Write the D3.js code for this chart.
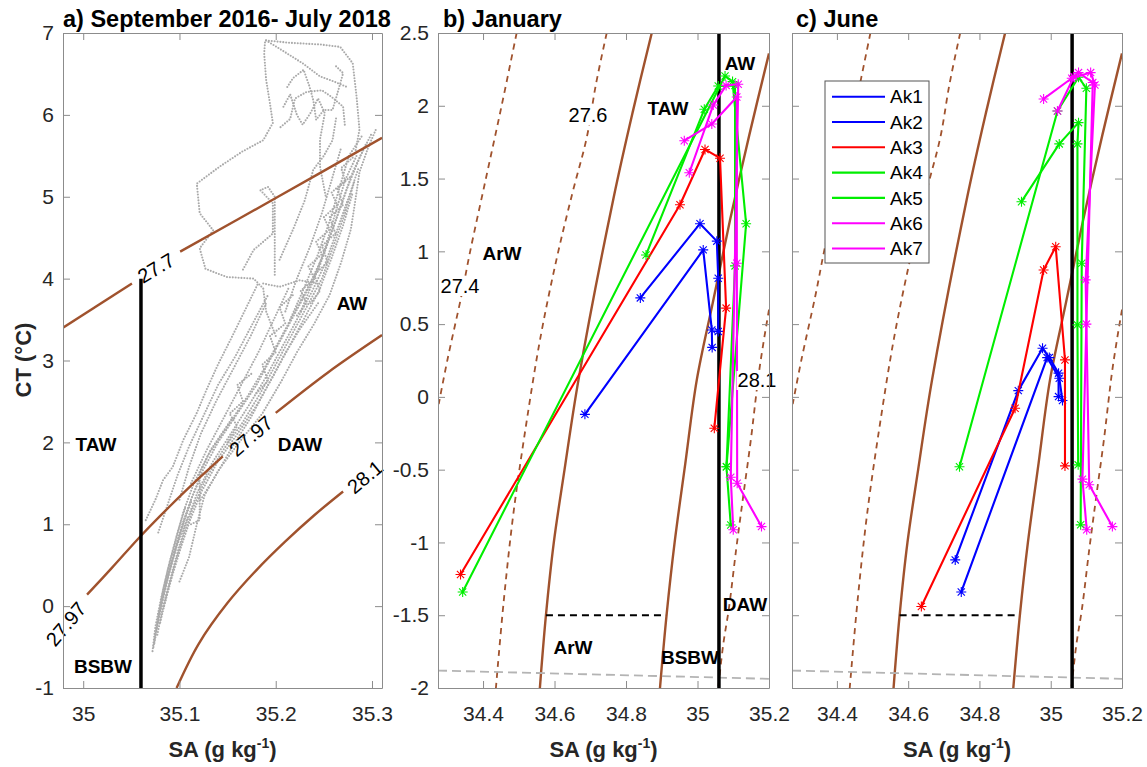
<!DOCTYPE html>
<html>
<head>
<meta charset="utf-8">
<script src="https://cdn.jsdelivr.net/npm/d3@7"></script>
<style>
  html, body { margin: 0; padding: 0; background: #fff; }
  svg text { font-family: "Liberation Sans", Arial, Helvetica, sans-serif; }
</style>
</head>
<body>
<svg id="chart" width="1147" height="767"></svg>
<script>
// ---------- Axis ticks ----------
const ticksA_SA = [35, 35.1, 35.2, 35.3];
const ticksA_CT = [-1, 0, 1, 2, 3, 4, 5, 6, 7];
const ticksBC_SA = [34.4, 34.6, 34.8, 35, 35.2];
const ticksBC_CT = [-2, -1.5, -1, -0.5, 0, 0.5, 1, 1.5, 2, 2.5];

// ---------- Panel (a): isopycnals [SA, CT], split where labels sit ----------
const isoA_277 = [[[34.979, 3.40], [35.0506, 3.94]],
                  [[35.1007, 4.33], [35.201, 4.99], [35.3104, 5.72]]];
const isoA_2797 = [[[35.004, 0.14], [35.03, 0.47], [35.06, 0.86], [35.09, 1.22], [35.12, 1.56], [35.145, 1.83]],
                   [[35.2, 2.36], [35.255, 2.86], [35.3104, 3.31]]];
const isoA_281 = [[[35.097, -1.0], [35.12, -0.46], [35.15, 0.04], [35.18, 0.44], [35.21, 0.79], [35.24, 1.11], [35.27, 1.40]]];

// Mooring record Sep 2016 - Jul 2018 (dotted SA/CT tracks)
const recordTracks = [
  [[35.072,-0.55],[35.075,-0.25],[35.081,0.1],[35.088,0.45],[35.096,0.8],[35.104,1.15],[35.115,1.5],[35.130,1.85],[35.150,2.2],[35.170,2.55],[35.188,2.9],[35.204,3.25],[35.220,3.6],[35.236,3.95],[35.250,4.3],[35.262,4.7],[35.274,5.1],[35.288,5.5],[35.300,5.78]],
  [[35.074,-0.45],[35.079,-0.1],[35.086,0.25],[35.094,0.6],[35.102,0.95],[35.112,1.3],[35.124,1.65],[35.140,2.0],[35.160,2.35],[35.180,2.7],[35.196,3.05],[35.212,3.4],[35.228,3.75],[35.244,4.1],[35.256,4.5],[35.268,4.9],[35.280,5.3],[35.294,5.65]],
  [[35.077,-0.35],[35.083,0.0],[35.091,0.35],[35.099,0.7],[35.108,1.05],[35.119,1.4],[35.134,1.75],[35.153,2.1],[35.172,2.45],[35.190,2.8],[35.206,3.15],[35.222,3.5],[35.238,3.85],[35.252,4.2],[35.264,4.6],[35.276,5.0],[35.286,5.35]],
  [[35.080,-0.2],[35.087,0.15],[35.095,0.5],[35.104,0.85],[35.114,1.2],[35.127,1.55],[35.145,1.9],[35.166,2.25],[35.184,2.6],[35.200,2.95],[35.216,3.3],[35.232,3.65],[35.248,4.0],[35.260,4.4],[35.272,4.8],[35.282,5.2]],
  [[35.084,0.0],[35.092,0.35],[35.101,0.7],[35.111,1.05],[35.123,1.4],[35.139,1.75],[35.160,2.1],[35.180,2.45],[35.197,2.8],[35.213,3.15],[35.229,3.5],[35.245,3.85],[35.258,4.25],[35.270,4.65],[35.280,5.05]],
  [[35.100,0.3],[35.110,0.6],[35.118,1.0],[35.126,1.35],[35.140,1.65],[35.162,2.0],[35.186,2.35],[35.206,2.75],[35.222,3.1],[35.240,3.45],[35.256,3.8],[35.268,4.2],[35.278,4.6],[35.282,4.9],[35.287,5.3],[35.296,5.6],[35.304,5.82]],
  [[35.073,-0.5],[35.077,-0.2],[35.083,0.2],[35.090,0.55],[35.098,0.9],[35.106,1.2]],
  [[35.076,-0.3],[35.082,0.05],[35.089,0.4],[35.097,0.75],[35.105,1.05],[35.113,1.3]],
  [[35.079,-0.1],[35.086,0.3],[35.094,0.65],[35.103,1.0],[35.112,1.3],[35.121,1.55]],
  [[35.082,0.1],[35.090,0.45],[35.099,0.8],[35.109,1.1]],
  [[35.100,1.3],[35.110,1.7],[35.122,2.1],[35.138,2.5],[35.156,2.9],[35.174,3.3],[35.190,3.7]],
  [[35.112,1.5],[35.128,1.9],[35.146,2.3],[35.164,2.7],[35.182,3.1],[35.198,3.5],[35.214,3.9]],
  [[35.122,1.3],[35.138,1.6],[35.155,1.95],[35.174,2.3],[35.192,2.7],[35.208,3.05],[35.226,3.4],[35.244,3.7]],
  [[35.112,1.0],[35.121,1.05],[35.121,1.62],[35.132,1.9],[35.155,2.3]],
  [[35.215,3.5],[35.230,3.9],[35.244,4.3],[35.256,4.7],[35.266,5.1],[35.276,5.5],[35.290,5.75]],
  [[35.226,3.6],[35.240,4.0],[35.252,4.4],[35.262,4.8],[35.272,5.2],[35.284,5.5]],
  [[35.210,3.6],[35.222,4.0],[35.236,4.4],[35.248,4.8],[35.258,5.2],[35.268,5.6]],
  [[35.222,3.55],[35.232,3.7],[35.226,3.85],[35.240,4.0],[35.234,4.15],[35.248,4.3],[35.242,4.45],[35.256,4.6],[35.250,4.75],[35.264,4.9],[35.258,5.05],[35.272,5.2],[35.268,5.35],[35.282,5.5]],
  [[35.236,3.7],[35.246,3.85],[35.240,4.05],[35.254,4.2],[35.248,4.4],[35.262,4.55],[35.256,4.75],[35.270,4.9],[35.264,5.1],[35.278,5.25]],
  [[35.180,2.6],[35.192,2.75],[35.186,2.95],[35.200,3.1],[35.194,3.3],[35.210,3.45],[35.204,3.65],[35.218,3.8]],
  [[35.150,2.0],[35.160,2.2],[35.152,2.35],[35.166,2.5],[35.160,2.7],[35.176,2.85]],
  [[35.065,1.05],[35.075,1.3],[35.083,1.54],[35.093,1.70],[35.104,2.03],[35.118,2.36],[35.128,2.64],[35.140,2.95],[35.155,3.3],[35.170,3.66],[35.182,3.95]],
  [[35.078,0.9],[35.088,1.25],[35.098,1.6],[35.110,1.95],[35.124,2.3],[35.140,2.7],[35.158,3.05],[35.176,3.45],[35.192,3.8]],
  [[35.200,3.3],[35.190,3.6],[35.187,3.88],[35.177,4.0],[35.149,4.02],[35.127,4.12],[35.121,4.37],[35.135,4.59],[35.121,4.80],[35.118,5.16],[35.142,5.37],[35.165,5.55],[35.187,5.69],[35.197,5.90],[35.194,6.14],[35.190,6.43],[35.188,6.75],[35.189,6.91],[35.215,6.88],[35.246,6.86],[35.267,6.83],[35.280,6.63],[35.284,6.22],[35.287,5.82],[35.282,5.5]],
  [[35.187,3.94],[35.204,3.9],[35.225,3.98],[35.240,3.95]],
  [[35.166,4.11],[35.177,4.35],[35.197,4.55],[35.197,4.92],[35.184,5.08],[35.192,5.12],[35.199,5.0],[35.199,4.5],[35.199,4.02]],
  [[35.204,4.23],[35.218,4.6],[35.230,4.95],[35.239,5.33],[35.250,5.5],[35.259,5.69],[35.263,5.98]],
  [[35.190,6.91],[35.205,6.8],[35.228,6.63],[35.246,6.47],[35.262,6.40],[35.274,6.34]],
  [[35.212,6.34],[35.218,6.45],[35.229,6.55],[35.235,6.35],[35.239,6.18],[35.242,5.94],[35.250,6.06],[35.259,6.06],[35.265,6.3],[35.270,6.51],[35.262,6.6]],
  [[35.208,6.10],[35.215,6.25],[35.222,6.0],[35.228,5.88],[35.236,6.02],[35.244,6.2],[35.251,6.02],[35.246,5.70],[35.246,5.37],[35.252,5.0]],
  [[35.205,5.85],[35.215,5.95],[35.220,6.2],[35.232,6.28],[35.248,6.3],[35.258,6.22],[35.270,6.10],[35.272,5.85]]
];

// ---------- Panels (b, c): isopycnals [SA, CT] ----------
const isoBC_274 = [[34.494,2.5],[34.452,2.0],[34.408,1.5],[34.364,1.0],[34.34,0.7],[34.30,0.25],[34.276,-0.05]];
const isoBC_276 = [[34.746,2.5],[34.716,2.15],[34.690,1.78],[34.650,1.40],[34.606,0.95],[34.560,0.40],[34.520,-0.20],[34.485,-0.80],[34.458,-1.40],[34.436,-2.0]];
const isoBC_277 = [[34.872,2.5],[34.82,1.97],[34.764,1.353],[34.667,0.117],[34.628,-0.5],[34.598,-1.0],[34.576,-1.5],[34.559,-2.0]];
const isoBC_2797 = [[35.2,2.36],[35.145,1.80],[35.091,1.216],[35.043,0.65],[34.998,0.117],[34.966,-0.455],[34.936,-1.0],[34.914,-1.486],[34.895,-2.0]];
const isoBC_281 = [[35.2,0.60],[35.185,0.38],[35.172,0.17],[35.162,-0.03],[35.150,-0.28],[35.128,-0.68],[35.108,-1.05],[35.088,-1.45],[35.072,-1.70],[35.058,-2.0]];
const freezingLine = [[34.274,-1.88],[35.2,-1.937]];
const arwBsbwLimit = [[34.576,-1.5],[34.912,-1.5]];
const awLimitSA = 35.06;

// ---------- Mooring profiles ----------
const seriesNames = ["Ak1", "Ak2", "Ak3", "Ak4", "Ak5", "Ak6", "Ak7"];
const seriesColors = ["#0000ff", "#0000ff", "#ff0000", "#00ee00", "#00ee00", "#ff00ff", "#ff00ff"];

const janAk1 = [[34.84,0.68],[35.007,1.19],[35.054,1.07],[35.058,0.815],[35.058,0.45]];
const janAk2 = [[34.685,-0.12],[35.016,1.01],[35.04,0.46],[35.041,0.34]];
const janAk3 = [[34.337,-1.22],[34.951,1.32],[35.021,1.70],[35.063,1.64],[35.080,0.61],[35.047,-0.215]];
const janAk4 = [[34.343,-1.34],[35.077,2.205],[35.098,2.166],[35.136,1.19],[35.081,-0.48]];
const janAk5 = [[34.856,0.975],[35.019,1.976],[35.058,2.136],[35.105,2.14],[35.105,0.90],[35.081,-0.48],[35.093,-0.88]];
const janAk6 = [[34.963,1.76],[35.040,1.875],[35.110,2.06],[35.110,0.918],[35.111,-0.593],[35.179,-0.891]];
const janAk7 = [[34.977,1.54],[35.044,2.005],[35.080,2.14],[35.114,2.148],[35.093,-0.552],[35.100,-0.913]];

const junAk1 = [[34.732,-1.12],[34.909,0.043],[34.977,0.334],[34.996,0.27],[35.022,0.163],[35.022,0.002]];
const junAk2 = [[34.749,-1.34],[34.99,0.27],[35.024,0.128],[35.033,-0.025]];
const junAk3 = [[34.637,-1.44],[34.900,-0.078],[34.980,0.872],[35.014,1.032],[35.040,0.254],[35.040,-0.474]];
const junAk4 = [[34.744,-0.48],[35.019,1.964],[35.078,2.196],[35.100,2.12],[35.087,0.918],[35.084,-0.879]];
const junAk5 = [[34.918,1.341],[35.024,1.738],[35.078,1.884],[35.075,1.738],[35.075,0.495],[35.077,-0.467]];
const junAk6 = [[34.980,2.047],[35.059,2.189],[35.112,2.228],[35.124,2.143],[35.098,0.804],[35.108,-0.604],[35.173,-0.891]];
const junAk7 = [[35.019,1.964],[35.065,2.2],[35.078,2.228],[35.118,2.16],[35.100,0.5],[35.089,-0.565],[35.101,-0.913]];

const janSeries = [janAk1, janAk2, janAk3, janAk4, janAk5, janAk6, janAk7];
const junSeries = [junAk1, junAk2, junAk3, junAk4, junAk5, junAk6, junAk7];

// ---------- Layout ----------
const TOP = 33, BOTTOM = 688;
const BROWN = "#a0522d";
const FRAME = "#8c8c8c";
const TXT = "#262626";

const svg = d3.select("#chart");

const xA = d3.scaleLinear([34.979, 35.3104], [63, 382]);
const yA = d3.scaleLinear([-1, 7], [BOTTOM, TOP]);
const xB = d3.scaleLinear([34.274, 35.2], [438, 769]);
const xC = d3.scaleLinear([34.274, 35.2], [792, 1122]);
const yBC = d3.scaleLinear([-2, 2.5], [BOTTOM, TOP]);

const fmt = d => String(+d.toFixed(2));

function styleAxis(sel) {
  sel.attr("font-family", null).attr("font-size", null);
  sel.select("path.domain").attr("stroke", FRAME).attr("stroke-width", 1);
  sel.selectAll(".tick line").attr("stroke", FRAME).attr("stroke-width", 1);
  sel.selectAll(".tick text").attr("fill", TXT).style("font-size", "21px");
}

function drawAxes(g, x, y, xt, yt, showY) {
  g.append("g").attr("transform", `translate(0,${BOTTOM})`)
    .call(d3.axisBottom(x).tickValues(xt).tickSizeInner(-7).tickSizeOuter(0).tickPadding(18).tickFormat(fmt))
    .call(styleAxis);
  g.append("g").attr("transform", `translate(0,${TOP})`)
    .call(d3.axisTop(x).tickValues(xt).tickSizeInner(-7).tickSizeOuter(0).tickFormat(""))
    .call(styleAxis);
  g.append("g").attr("transform", `translate(${x.range()[0]},0)`)
    .call(d3.axisLeft(y).tickValues(yt).tickSizeInner(-7).tickSizeOuter(0).tickPadding(9).tickFormat(showY ? fmt : ""))
    .call(styleAxis);
  g.append("g").attr("transform", `translate(${x.range()[1]},0)`)
    .call(d3.axisRight(y).tickValues(yt).tickSizeInner(-7).tickSizeOuter(0).tickFormat(""))
    .call(styleAxis);
}

function clipFor(id, x) {
  svg.append("clipPath").attr("id", id).append("rect")
    .attr("x", x.range()[0]).attr("y", TOP)
    .attr("width", x.range()[1] - x.range()[0]).attr("height", BOTTOM - TOP);
}

function asterisk(r) {
  const k = r * 0.72;
  return `M${-r},0H${r}M0,${-r}V${r}M${-k},${-k}L${k},${k}M${-k},${k}L${k},${-k}`;
}

function regionLabel(g, x, y, t) {
  g.append("text").attr("x", x).attr("y", y).attr("dy", "0.35em")
    .attr("text-anchor", "middle").attr("font-weight", "bold")
    .style("font-size", "19px").attr("fill", "#000").text(t);
}

function contourLabel(g, x, y, angle, t, knock) {
  const tx = g.append("g").attr("transform", `translate(${x},${y}) rotate(${angle})`);
  const txt = tx.append("text").attr("text-anchor", "middle").attr("dy", "0.35em")
    .style("font-size", "20px").attr("fill", "#000").text(t);
  if (knock) {
    const bb = txt.node().getBBox();
    tx.insert("rect", "text").attr("x", bb.x - 1).attr("y", bb.y + 2)
      .attr("width", bb.width + 2).attr("height", bb.height - 3).attr("fill", "#fff");
  }
}

function axisTitles(g, x) {
  const cx = (x.range()[0] + x.range()[1]) / 2;
  const t = g.append("text").attr("x", cx).attr("y", 757).attr("text-anchor", "middle")
    .attr("font-weight", "bold").style("font-size", "22px").attr("fill", TXT);
  t.append("tspan").text("SA (g kg");
  t.append("tspan").attr("dy", -9).style("font-size", "14px").text("-1");
  t.append("tspan").attr("dy", 9).text(")");
}

// ================= Panel (a) =================
const gA = svg.append("g");
clipFor("clipA", xA);
const lineA = d3.line().x(d => xA(d[0])).y(d => yA(d[1])).curve(d3.curveCatmullRom);
const trackLine = d3.line().x(d => xA(d[0])).y(d => yA(d[1]));
const plotA = gA.append("g").attr("clip-path", "url(#clipA)");

plotA.selectAll("path.track").data(recordTracks).join("path")
  .attr("class", "track").attr("d", trackLine).attr("fill", "none")
  .attr("stroke", "#aaaaaa").attr("stroke-width", 2.1)
  .attr("stroke-linecap", "round").attr("stroke-dasharray", "0 2.9");

[isoA_277, isoA_2797, isoA_281].forEach(segs => {
  plotA.selectAll(null).data(segs).join("path")
    .attr("d", lineA).attr("fill", "none").attr("stroke", BROWN).attr("stroke-width", 2.4);
});

gA.append("line").attr("x1", xA(awLimitSA)).attr("x2", xA(awLimitSA))
  .attr("y1", yA(-1)).attr("y2", yA(4)).attr("stroke", "#000").attr("stroke-width", 3.5);

contourLabel(gA, 156, 268, -31, "27.7", false);
contourLabel(gA, 251, 436, -41, "27.97", false);
contourLabel(gA, 66, 624, -50, "27.97", false);
contourLabel(gA, 365, 477, -40, "28.1", false);

regionLabel(gA, 352, 303, "AW");
regionLabel(gA, 96, 444, "TAW");
regionLabel(gA, 300, 444, "DAW");
regionLabel(gA, 103, 666, "BSBW");

drawAxes(gA, xA, yA, ticksA_SA, ticksA_CT, true);
axisTitles(gA, xA);
gA.append("text").attr("transform", "translate(31,360) rotate(-90)")
  .attr("text-anchor", "middle").attr("font-weight", "bold").style("font-size", "22px")
  .attr("fill", TXT).text("CT (°C)");
gA.append("text").attr("x", 63).attr("y", 27).attr("font-weight", "bold")
  .style("font-size", "23.5px").attr("fill", "#000").text("a) September 2016- July 2018");

// ================= Panels (b) and (c) =================
function monthPanel(x, clipId, series, title, titleX, withLabels, showY) {
  const g = svg.append("g");
  clipFor(clipId, x);
  const plot = g.append("g").attr("clip-path", `url(#${clipId})`);
  const iso = d3.line().x(d => x(d[0])).y(d => yBC(d[1])).curve(d3.curveCatmullRom);
  const seg = d3.line().x(d => x(d[0])).y(d => yBC(d[1]));

  [isoBC_274, isoBC_276, isoBC_281].forEach(c => plot.append("path").attr("d", iso(c))
    .attr("fill", "none").attr("stroke", BROWN).attr("stroke-width", 1.8)
    .attr("stroke-dasharray", "6 5"));
  [isoBC_277, isoBC_2797].forEach(c => plot.append("path").attr("d", iso(c))
    .attr("fill", "none").attr("stroke", BROWN).attr("stroke-width", 2.4));

  plot.append("path").attr("d", seg(freezingLine)).attr("fill", "none")
    .attr("stroke", "#b4b4b4").attr("stroke-width", 1.8).attr("stroke-dasharray", "9 5");
  plot.append("path").attr("d", seg(arwBsbwLimit)).attr("fill", "none")
    .attr("stroke", "#000").attr("stroke-width", 2).attr("stroke-dasharray", "7 5");
  plot.append("line").attr("x1", x(awLimitSA)).attr("x2", x(awLimitSA))
    .attr("y1", TOP).attr("y2", BOTTOM).attr("stroke", "#000").attr("stroke-width", 3.5);

  if (withLabels) {
    contourLabel(g, 460, 286, 0, "27.4", true);
    contourLabel(g, 588, 115, 0, "27.6", true);
    contourLabel(g, 757, 380, 0, "28.1", true);
  }

  series.forEach((s, i) => {
    plot.append("path").attr("d", seg(s)).attr("fill", "none")
      .attr("stroke", seriesColors[i]).attr("stroke-width", 2.1).attr("stroke-linejoin", "round");
    plot.selectAll(null).data(s).join("path")
      .attr("transform", d => `translate(${x(d[0])},${yBC(d[1])})`)
      .attr("d", asterisk(5)).attr("fill", "none")
      .attr("stroke", seriesColors[i]).attr("stroke-width", 1.1);
  });

  drawAxes(g, x, yBC, ticksBC_SA, ticksBC_CT, showY);
  axisTitles(g, x);
  g.append("text").attr("x", titleX).attr("y", 27).attr("font-weight", "bold")
    .style("font-size", "23.5px").attr("fill", "#000").text(title);
  return g;
}

const gB = monthPanel(xB, "clipB", janSeries, "b) January", 443, true, true);
regionLabel(gB, 740, 63, "AW");
regionLabel(gB, 668, 108, "TAW");
regionLabel(gB, 502, 253, "ArW");
regionLabel(gB, 573, 647, "ArW");
regionLabel(gB, 690, 657, "BSBW");
regionLabel(gB, 745, 604, "DAW");

const gC = monthPanel(xC, "clipC", junSeries, "c) June", 796, false, false);

// Legend
const leg = gC.append("g").attr("transform", "translate(825,81)");
leg.append("rect").attr("width", 104).attr("height", 182)
  .attr("fill", "#fff").attr("stroke", "#555").attr("stroke-width", 1);
seriesNames.forEach((n, i) => {
  const yy = 15.7 + i * 25.3;
  leg.append("line").attr("x1", 7).attr("x2", 60).attr("y1", yy).attr("y2", yy)
    .attr("stroke", seriesColors[i]).attr("stroke-width", 2.1);
  leg.append("text").attr("x", 65).attr("y", yy).attr("dy", "0.35em")
    .style("font-size", "19px").attr("fill", "#000").text(n);
});
</script>
</body>
</html>
